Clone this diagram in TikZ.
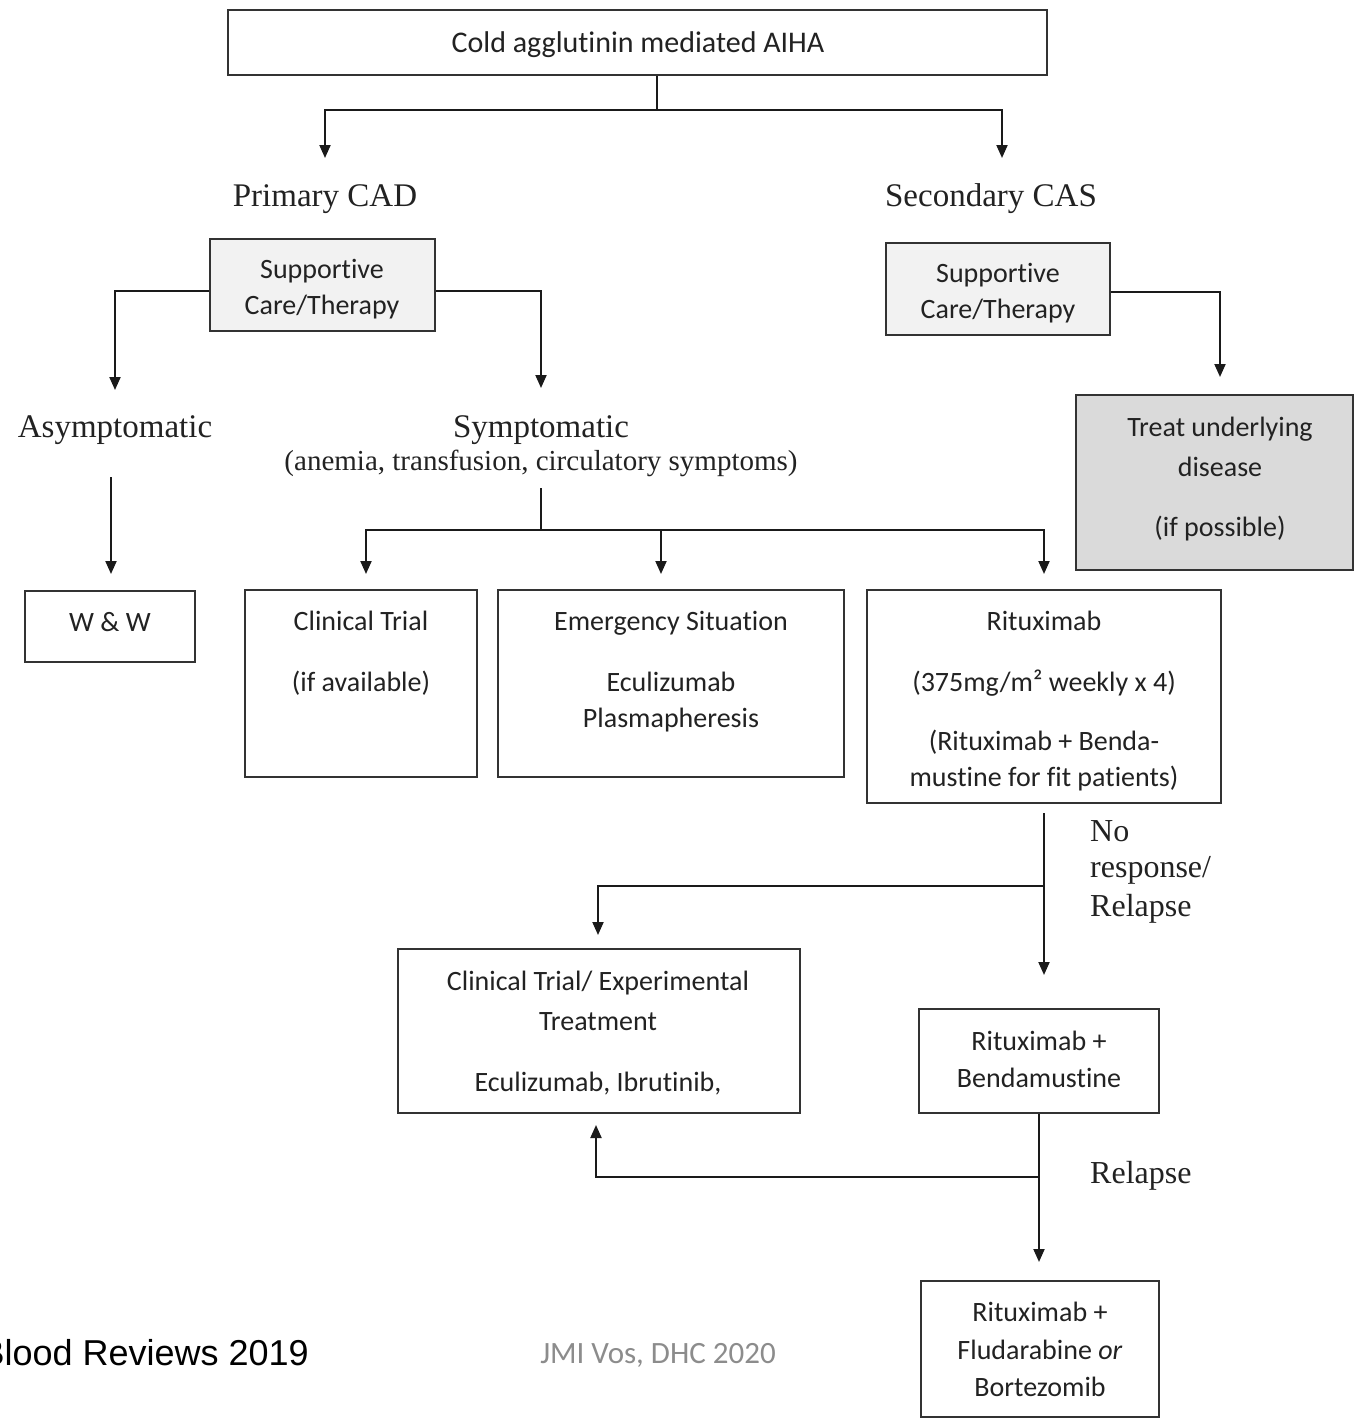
\documentclass[tikz,border=0pt]{standalone}
\usepackage{fontspec}
\setmainfont[Ligatures={NoCommon}]{Carlito}
\newfontfamily\serifface{Liberation Serif}
\newfontfamily\arialface{Liberation Sans}
\usetikzlibrary{arrows.meta}

\definecolor{ink}{HTML}{222222}
\definecolor{boxline}{HTML}{333333}
\definecolor{wire}{HTML}{1A1A1A}
\definecolor{supfill}{HTML}{F2F2F2}
\definecolor{treatfill}{HTML}{DADADA}
\definecolor{credit}{HTML}{8C8C8C}

\tikzset{
  box/.style={draw=boxline, line width=2pt, fill=white, inner sep=0pt},
  txt/.style={font=\fontsize{28}{32}\selectfont, text=ink, anchor=base, inner sep=0pt},
  lbl/.style={font=\serifface\fontsize{33}{38}\selectfont, text=ink, anchor=base, inner sep=0pt},
  link/.style={draw=wire, line width=2pt},
  arr/.style={link, -{Triangle[length=13pt,width=11pt]}},
}

\begin{document}
\begin{tikzpicture}[x=1pt, y=-1pt]
\useasboundingbox (0,0) rectangle (1354,1419);
\clip (0,0) rectangle (1354,1419);
\fill[white] (0,0) rectangle (1354,1419);

% ---------- boxes ----------
\node[box, minimum width=819, minimum height=65] (top) at (637.5,42.5) {};
\node[box, fill=supfill, minimum width=225, minimum height=92] (supL) at (322.5,285) {};
\node[box, fill=supfill, minimum width=224, minimum height=92] (supR) at (998,289) {};
\node[box, fill=treatfill, minimum width=277, minimum height=175] (treat) at (1214.5,482.5) {};
\node[box, minimum width=170, minimum height=71] (ww) at (110,626.5) {};
\node[box, minimum width=232, minimum height=187] (ct) at (361,683.5) {};
\node[box, minimum width=346, minimum height=187] (em) at (671,683.5) {};
\node[box, minimum width=354, minimum height=213] (rit) at (1044,696.5) {};
\node[box, minimum width=402, minimum height=164] (ctx) at (599,1031) {};
\node[box, minimum width=240, minimum height=104] (rb) at (1039,1061) {};
\node[box, minimum width=238, minimum height=136] (rf) at (1040,1349) {};

% ---------- box texts ----------
\node[txt, font=\fontsize{30}{34}\selectfont] (tTop) at (638,52) {Cold agglutinin mediated AIHA};
\node[txt] (tSupL1) at (322,278) {Supportive};
\node[txt] (tSupL2) at (322,314) {Care/Therapy};
\node[txt] (tSupR1) at (998,282) {Supportive};
\node[txt] (tSupR2) at (998,318) {Care/Therapy};
\node[txt] (tTr1) at (1220,436) {Treat underlying};
\node[txt] (tTr2) at (1220,476) {disease};
\node[txt] (tTr3) at (1220,536) {(if possible)};
\node[txt] (tWW) at (110,631) {W \& W};
\node[txt] (tCt1) at (361,630) {Clinical Trial};
\node[txt] (tCt2) at (361,691) {(if available)};
\node[txt] (tEm1) at (671,630) {Emergency Situation};
\node[txt] (tEm2) at (671,691) {Eculizumab};
\node[txt] (tEm3) at (671,727) {Plasmapheresis};
\node[txt] (tRi1) at (1044,630) {Rituximab};
\node[txt] (tRi2) at (1044,691) {(375mg/m² weekly x 4)};
\node[txt] (tRi3) at (1044,750) {(Rituximab + Benda-};
\node[txt] (tRi4) at (1044,786) {mustine for fit patients)};
\node[txt] (tCx1) at (598,990) {Clinical Trial/ Experimental};
\node[txt] (tCx2) at (598,1030) {Treatment};
\node[txt] (tCx3) at (598,1091) {Eculizumab, Ibrutinib,};
\node[txt] (tRb1) at (1039,1050) {Rituximab +};
\node[txt] (tRb2) at (1039,1087) {Bendamustine};
\node[txt] (tRf1) at (1040,1321) {Rituximab +};
\node[txt] (tRf2) at (1040,1359) {Fludarabine \textit{or}};
\node[txt] (tRf3) at (1040,1396) {Bortezomib};

% ---------- free labels ----------
\node[lbl] (primary) at (325,206) {Primary CAD};
\node[lbl] (secondary) at (991,206) {Secondary CAS};
\node[lbl] (asym) at (115,437) {Asymptomatic};
\node[lbl] (sym) at (541,437) {Symptomatic};
\node[lbl, font=\serifface\fontsize{29}{34}\selectfont] (symsub) at (541,470) {(anemia, transfusion, circulatory symptoms)};
\node[lbl, anchor=base west, font=\serifface\fontsize{32}{38}\selectfont] (nr1) at (1090,841) {No};
\node[lbl, anchor=base west, font=\serifface\fontsize{32}{38}\selectfont] (nr2) at (1090,877) {response/};
\node[lbl, anchor=base west, font=\serifface\fontsize{32}{38}\selectfont] (nr3) at (1090,916) {Relapse};
\node[lbl, anchor=base west, font=\serifface\fontsize{32}{38}\selectfont] (rel) at (1090,1183) {Relapse};

% source line runs off the left edge of the page
\node[anchor=base east, inner sep=0pt, font=\arialface\fontsize{36}{40}\selectfont, text=black] (src) at (309,1365) {Blood Reviews 2019};
\node[anchor=base, inner sep=0pt, font=\fontsize{31}{36}\selectfont, text=credit] (cred) at (658,1363) {JMI Vos, DHC 2020};

% ---------- junctions and arrow tips ----------
\coordinate (j1) at (657,110);
\coordinate (aP) at (325,158);
\coordinate (aS) at (1002,158);
\coordinate (aA) at (115,390);
\coordinate (aSy) at (541,388);
\coordinate (aT) at (1220,377);
\coordinate (sA) at (111,477);
\coordinate (aW) at (111,574);
\coordinate (sS) at (541,488);
\coordinate (j2) at (541,530);
\coordinate (aC) at (366,574);
\coordinate (aE) at (661,574);
\coordinate (aR) at (1044,574);
\coordinate (j3) at (1044,886);
\coordinate (aX) at (598,935);
\coordinate (aB) at (1044,975);
\coordinate (j4) at (1039,1177);
\coordinate (aU) at (596,1125);
\coordinate (aF) at (1039,1262);

% ---------- connectors ----------
\draw[link] (top.south -| j1) -- (j1);
\draw[arr] (j1) -| (aP);
\draw[arr] (j1) -| (aS);

\draw[arr] ([yshift=-6pt]supL.west) -| (aA);
\draw[arr] ([yshift=-6pt]supL.east) -| (aSy);
\draw[arr] ([yshift=-3pt]supR.east) -| (aT);

\draw[arr] (sA) -- (aW);

\draw[link] (sS) -- (j2);
\draw[arr] (j2) -| (aC);
\draw[arr] (j2) -| (aE);
\draw[arr] (j2) -| (aR);

\draw[arr] ([yshift=-9pt]rit.south) -- (aB);
\draw[arr] (j3) -| (aX);

\draw[arr] (rb.south -| j4) -- (aF);
\draw[arr] (j4) -| (aU);
\end{tikzpicture}
\end{document}
